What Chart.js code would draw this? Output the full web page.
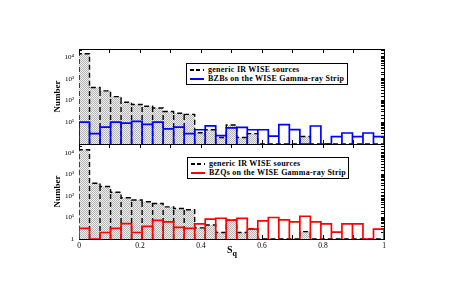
<!DOCTYPE html>
<html><head><meta charset="utf-8">
<script src="https://cdn.jsdelivr.net/npm/chart.js@4"></script>
<style>
html,body{margin:0;padding:0;background:#fff;}
#wrap{position:relative;width:463px;height:289px;overflow:hidden;background:#fff;}
canvas{position:absolute;left:0;top:0;}
.leg{position:absolute;border:1px solid #000;background:#fff;font:bold 8px "Liberation Serif",serif;color:#000;box-sizing:border-box;width:162px;height:22px;}
.row{position:absolute;left:0;height:10px;line-height:10px;white-space:nowrap;}
.sample{position:absolute;left:3px;top:4px;width:14px;height:2px;}
.dash{background:repeating-linear-gradient(90deg,#000 0 4px,transparent 4px 6.5px);}
.txt{position:absolute;left:21px;top:0;letter-spacing:0.25px;}
#sq{position:absolute;left:227px;top:244px;font:bold 10px "Liberation Serif",serif;color:#000;}
#sq sub{font-size:8px;vertical-align:-3px;}
</style></head>
<body>
<div id="wrap">
<canvas id="cBot" width="463" height="289"></canvas>
<canvas id="cTop" width="463" height="289"></canvas>
<div class="leg" style="left:186px;top:63px;">
  <div class="row" style="top:1px;"><div class="sample dash"></div><div class="txt" id="l1"></div></div>
  <div class="row" style="top:10px;"><div class="sample" style="background:#0000ff;"></div><div class="txt" id="l2"></div></div>
</div>
<div class="leg" style="left:187px;top:157px;">
  <div class="row" style="top:1px;"><div class="sample dash"></div><div class="txt" id="l3"></div></div>
  <div class="row" style="top:10px;"><div class="sample" style="background:#ff0000;"></div><div class="txt" id="l4"></div></div>
</div>
<div id="sq">S<sub>q</sub></div>
</div>
<script>
// ---- data ----
const binCount = 29;            // bins over s_q in [0,1]
const genericIR = [14000, 390, 275, 150, 82, 65, 54, 45, 31, 26, 23, 3.3, 4.5, 2, 7.5, 2, 3, 1, 1, 1, 1, 2.2, 1, 1, 1, 1, 1, 1, 1];
const bzbs = [10, 3, 6, 10, 9, 11, 8, 10, 5, 6, 3, 4.5, 6.8, 2.4, 5.5, 5.8, 4.5, 4.5, 2.3, 7.7, 4.6, 1, 6.7, 1, 2.2, 3.2, 2.2, 3.2, 2.2];
const bzqs = [3.1, 1, 2, 3.1, 5.2, 2, 3.9, 7.3, 6.2, 3.5, 3.1, 5, 8.4, 9.2, 7.6, 9, 2.9, 7, 10, 7.8, 6.2, 11.4, 6.2, 5, 2.1, 5, 5, 1, 2.9];
const xTickLabels = {0: '0', 2: '0.2', 4: '0.4', 6: '0.6', 8: '0.8', 10: '1'};
const yTickLabels = ['1', '10\u00B9', '10\u00B2', '10\u00B3', '10\u2074'];
const legendGeneric = 'generic IR WISE sources';
const legendBZB = 'BZBs on the WISE Gamma-ray Strip';
const legendBZQ = 'BZQs on the WISE Gamma-ray Strip';
const yTitle = 'Number';

document.getElementById('l1').textContent = legendGeneric;
document.getElementById('l2').textContent = legendBZB;
document.getElementById('l3').textContent = legendGeneric;
document.getElementById('l4').textContent = legendBZQ;

const edges = Array.from({length: binCount + 1}, (_, k) => k / binCount);

function barOutline(vals) {
  const pts = [];
  vals.forEach((v, k) => {
    pts.push({x: edges[k], y: 1}, {x: edges[k], y: v}, {x: edges[k + 1], y: v}, {x: edges[k + 1], y: 1});
  });
  return pts;
}
function stepTop(vals) {
  const pts = [{x: edges[0], y: 1}];
  vals.forEach((v, k) => { pts.push({x: edges[k], y: v}, {x: edges[k + 1], y: v}); });
  pts.push({x: edges[vals.length], y: 1});
  return pts;
}
function innerEdges(vals) {
  const pts = [];
  for (let k = 1; k < vals.length; k++) {
    pts.push({x: edges[k], y: 1}, {x: edges[k], y: Math.min(vals[k - 1], vals[k])}, {x: edges[k], y: null});
  }
  return pts;
}

function hatch() {
  const c = document.createElement('canvas');
  c.width = 2; c.height = 2;
  const g = c.getContext('2d');
  g.fillStyle = '#f0f0f0'; g.fillRect(0, 0, 2, 2);
  g.fillStyle = '#b4b4b4'; g.fillRect(0, 0, 1, 1); g.fillRect(1, 1, 1, 1);
  return g.createPattern(c, 'repeat');
}

const FONT = "'Liberation Serif', serif";

function makeChart(id, colored, color, yMax, showX, pad) {
  const logLabel = (isBottom) => (v) => {
    const l = Math.log10(v);
    const r = Math.round(l);
    if (Math.abs(l - r) > 1e-9 || r < 0 || r >= yTickLabels.length) return '';
    if (r === 0 && !isBottom) return '';
    return yTickLabels[r];
  };
  const common = {
    grid: {drawOnChartArea: false, tickLength: -3, tickColor: '#000', tickWidth: 1},
    border: {color: '#000', width: 1},
  };
  return new Chart(document.getElementById(id), {
    type: 'line',
    data: {
      datasets: [
        {data: barOutline(colored), borderColor: color, borderWidth: 1.7, pointRadius: 0, fill: false, order: 0},
        {data: innerEdges(genericIR), borderColor: '#000', borderWidth: 1.4, borderDash: [5, 3], pointRadius: 0, fill: false, spanGaps: false, order: 1},
        {data: stepTop(genericIR), borderColor: '#000', borderWidth: 1.4, borderDash: [5, 3], pointRadius: 0, fill: 'start', backgroundColor: hatch(), order: 2},
      ]
    },
    options: {
      responsive: false, animation: false, devicePixelRatio: 1,
      layout: {padding: pad},
      plugins: {legend: {display: false}, tooltip: {enabled: false}},
      elements: {line: {tension: 0}},
      scales: {
        x: Object.assign({}, common, {
          type: 'linear', position: 'bottom', min: 0, max: 1, z: 1,
          grid: Object.assign({}, common.grid, {tickLength: -4}),
          ticks: {stepSize: 0.1, autoSkip: false, maxRotation: 0, padding: 7, color: '#000',
            font: {family: FONT, size: 7.5},
            callback: (v) => { if (!showX) return ''; const k = Math.round(v * 10); return (Math.abs(v * 10 - k) < 1e-6 && xTickLabels[k] !== undefined) ? xTickLabels[k] : ''; }},
          afterFit: (s) => { s.height = showX ? 15 : 4; }
        }),
        x2: Object.assign({}, common, {
          type: 'linear', position: 'top', min: 0, max: 1, z: 1,
          grid: Object.assign({}, common.grid, {tickLength: -4}),
          ticks: {stepSize: 0.1, autoSkip: false, display: true, callback: () => ''},
          afterFit: (s) => { s.height = 4; }
        }),
        y: Object.assign({}, common, {
          type: 'logarithmic', position: 'left', min: 1, max: yMax, z: 1,
          ticks: {autoSkip: false, padding: 8, color: '#000', font: {family: FONT, size: 7}, callback: logLabel(showX)},
          title: {display: true, text: yTitle, color: '#000', font: {family: FONT, size: 9, weight: 'bold'}, padding: {top: 2, bottom: 0}},
          afterFit: (s) => { s.width = 29; }
        }),
        y2: Object.assign({}, common, {
          type: 'logarithmic', position: 'right', min: 1, max: yMax, z: 1,
          ticks: {autoSkip: false, callback: () => ''},
          afterFit: (s) => { s.width = 4; }
        }),
      }
    }
  });
}

makeChart('cTop', bzbs, '#0000ff', 23000, false, {left: 50, right: 75, top: 45, bottom: 141});
makeChart('cBot', bzqs, '#ff0000', 26000, true, {left: 50, right: 75, top: 140, bottom: 35});
</script>
</body></html>
